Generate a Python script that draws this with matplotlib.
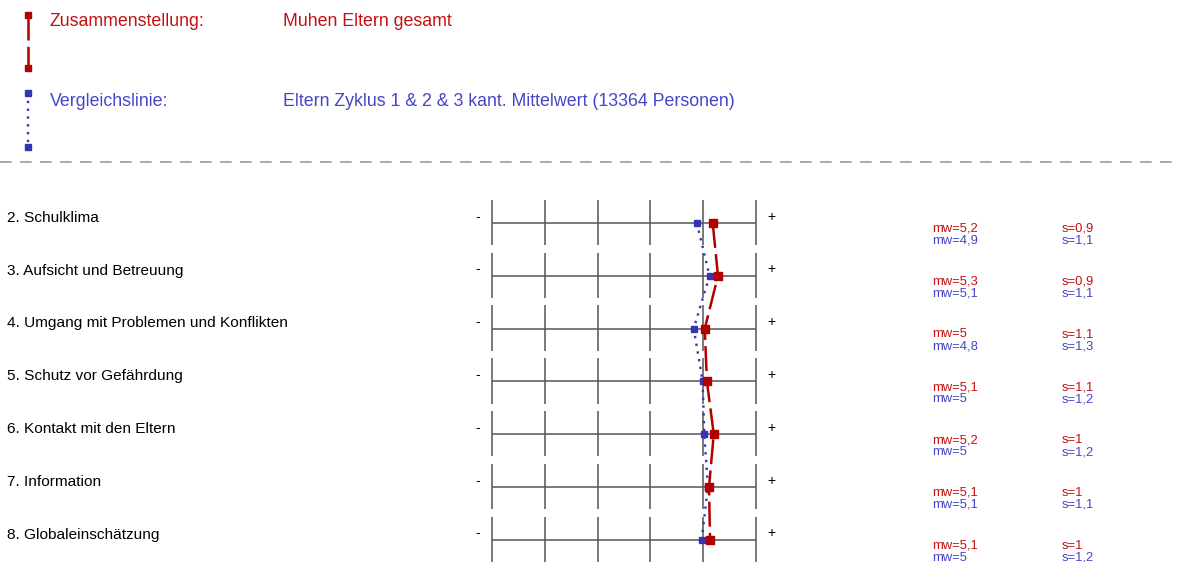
import matplotlib
matplotlib.use("Agg")
import matplotlib.pyplot as plt
from matplotlib import transforms

categories = ["2. Schulklima", "3. Aufsicht und Betreuung",
              "4. Umgang mit Problemen und Konflikten", "5. Schutz vor Gefährdung",
              "6. Kontakt mit den Eltern", "7. Information", "8. Globaleinschätzung"]
mw_muhen = [5.18, 5.28, 5.03, 5.07, 5.20, 5.11, 5.13]
mw_kanton = [4.88, 5.12, 4.82, 4.99, 5.02, 5.09, 4.97]
s_muhen = [0.9, 0.9, 1.1, 1.1, 1.0, 1.0, 1.0]
s_kanton = [1.1, 1.1, 1.3, 1.2, 1.2, 1.1, 1.2]
scale = [1, 2, 3, 4, 5, 6]

school_name = "Muhen Eltern gesamt"
compare_name = "Eltern Zyklus 1 & 2 & 3 kant. Mittelwert (13364 Personen)"

RED = "#b00000"
RED_TXT = "#c41010"
BLUE = "#3434b4"
BLUE_TXT = "#4545c8"
GRID = "#555555"

plt.rcParams["font.family"] = ["Liberation Sans", "DejaVu Sans"]

W, H = 1177, 562
fig = plt.figure(figsize=(W / 100, H / 100), dpi=100)
ax = fig.add_axes([0, 0, 1, 1])
ax.axis("off")

# value 1 sits at px 492, rows are 52.8 px apart starting at px 223
step = 52.8
ax.set_xlim(1 - 492 / step, 1 + (W - 492) / step)
ax.set_ylim((H - 223) / step, -223 / step)

rows = list(range(len(categories)))


def fmt(v):
    s = f"{round(v, 1):.1f}".replace(".", ",")
    return s[:-2] if s.endswith(",0") else s


def fx(px):
    return px / W


def fy(py):
    return 1 - py / H


tr = transforms.blended_transform_factory(fig.transFigure, ax.transData)

# grid per row
for i in rows:
    ax.vlines(scale, i - 0.44, i + 0.42, color=GRID, lw=1.1)
    ax.hlines(i, scale[0], scale[-1], color=GRID, lw=1.1)
    ax.text(fx(7), i - 0.1, categories[i], transform=tr, fontsize=11.1,
            va="center", ha="left", color="black")
    ax.text(fx(478), i - 0.12, "-", transform=tr, fontsize=10,
            va="center", ha="center", color="black")
    ax.text(fx(771), i - 0.12, "+", transform=tr, fontsize=10,
            va="center", ha="center", color="black")
    ax.text(fx(932), i + 0.11, "mw=" + fmt(mw_muhen[i]), transform=tr,
            fontsize=9.4, va="center", color=RED_TXT)
    ax.text(fx(932), i + 0.34, "mw=" + fmt(mw_kanton[i]), transform=tr,
            fontsize=9.4, va="center", color=BLUE_TXT)
    ax.text(fx(1062), i + 0.11, "s=" + fmt(s_muhen[i]), transform=tr,
            fontsize=9.4, va="center", color=RED_TXT)
    ax.text(fx(1062), i + 0.34, "s=" + fmt(s_kanton[i]), transform=tr,
            fontsize=9.4, va="center", color=BLUE_TXT)

ax.plot(mw_kanton, rows, color=BLUE, ls=(0, (1, 2.3)), lw=1.7,
        marker="s", ms=5, zorder=3)
ax.plot(mw_muhen, rows, color=RED, ls=(0, (10, 2.5)), lw=1.8,
        marker="s", ms=5.5, zorder=4)

# header legend
ax.plot([fx(28), fx(28)], [fy(15), fy(68)], transform=fig.transFigure,
        color=RED, ls=(0, (10, 2.5)), lw=1.8, marker="s", ms=5, clip_on=False)
ax.plot([fx(28), fx(28)], [fy(93), fy(147)], transform=fig.transFigure,
        color=BLUE, ls=(0, (1, 2.3)), lw=1.7, marker="s", ms=5, clip_on=False)
ax.text(fx(50), fy(21), "Zusammenstellung:", transform=fig.transFigure,
        fontsize=12.8, va="center", color=RED_TXT)
ax.text(fx(283), fy(21), school_name, transform=fig.transFigure,
        fontsize=12.8, va="center", color=RED_TXT)
ax.text(fx(50), fy(101), "Vergleichslinie:", transform=fig.transFigure,
        fontsize=12.8, va="center", color=BLUE_TXT)
ax.text(fx(283), fy(101), compare_name, transform=fig.transFigure,
        fontsize=12.8, va="center", color=BLUE_TXT)
ax.plot([0, 1], [fy(162), fy(162)], transform=fig.transFigure,
        color="#999999", ls=(0, (7, 5)), lw=1.2, clip_on=False)

fig.savefig("out.png", dpi=100)
